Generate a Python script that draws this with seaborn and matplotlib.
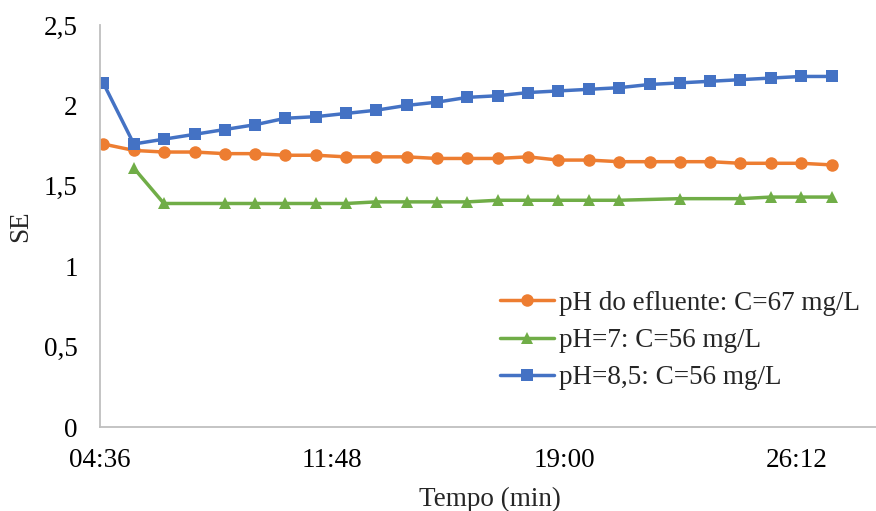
import matplotlib
matplotlib.use("Agg")
import matplotlib.pyplot as plt
import numpy as np
import pandas as pd
import seaborn as sns
from matplotlib.ticker import FixedLocator, FixedFormatter

# Sampling instants (mm:ss)
tempos = ["04:42", "05:39", "06:35", "07:32", "08:28", "09:25", "10:21", "11:18",
          "12:14", "13:10", "14:07", "15:03", "16:00", "16:56", "17:53", "18:49",
          "19:46", "20:42", "21:39", "22:35", "23:32", "24:28", "25:25", "26:21",
          "27:18"]

se_efluente = [1.76, 1.72, 1.71, 1.71, 1.70, 1.70, 1.69, 1.69, 1.68, 1.68, 1.68,
               1.67, 1.67, 1.67, 1.68, 1.66, 1.66, 1.65, 1.65, 1.65, 1.65, 1.64,
               1.64, 1.64, 1.63]
se_ph7 = [np.nan, 1.61, 1.39, np.nan, 1.39, 1.39, 1.39, 1.39, 1.39, 1.40, 1.40,
          1.40, 1.40, 1.41, 1.41, 1.41, 1.41, 1.41, np.nan, 1.42, np.nan, 1.42,
          1.43, 1.43, 1.43]
se_ph85 = [2.14, 1.76, 1.79, 1.82, 1.85, 1.88, 1.92, 1.93, 1.95, 1.97, 2.00,
           2.02, 2.05, 2.06, 2.08, 2.09, 2.10, 2.11, 2.13, 2.14, 2.15, 2.16,
           2.17, 2.18, 2.18]

series_names = ["pH do efluente: C=67 mg/L", "pH=7: C=56 mg/L", "pH=8,5: C=56 mg/L"]
series_colors = ["#ED7D31", "#70AD47", "#4472C4"]
series_markers = ["o", "^", "s"]

x_tick_labels = ["04:36", "11:48", "19:00", "26:12"]
y_ticks = [0, 0.5, 1, 1.5, 2, 2.5]
y_tick_labels = ["0", "0,5", "1", "1,5", "2", "2,5"]

FS = 19.5


def to_seconds(s):
    m, sec = s.split(":")
    return int(m) * 60 + int(sec)


secs = [to_seconds(t) for t in tempos]
frames = []
for name, vals in zip(series_names, [se_efluente, se_ph7, se_ph85]):
    frames.append(pd.DataFrame({"t": secs, "SE": vals, "serie": name}))
df = pd.concat(frames, ignore_index=True).dropna()

sns.set_theme(style="white")
plt.rcParams["font.family"] = ["Liberation Serif", "DejaVu Serif"]

fig = plt.figure(figsize=(8.76, 5.11), dpi=100)
ax = fig.add_axes([100 / 876, 1 - 427 / 511, 780 / 876, (427 - 25) / 511])

sns.lineplot(
    data=df, x="t", y="SE", hue="serie", style="serie",
    hue_order=series_names, style_order=series_names,
    palette=dict(zip(series_names, series_colors)),
    markers=dict(zip(series_names, series_markers)),
    dashes=False, linewidth=2.5, markersize=9, markeredgewidth=0,
    ax=ax, sort=False,
)

tick_secs = [to_seconds(t) for t in x_tick_labels]
ax.set_xlim(tick_secs[0], 1728)
ax.set_ylim(0, 2.5)
ax.xaxis.set_major_locator(FixedLocator(tick_secs))
ax.xaxis.set_major_formatter(FixedFormatter(x_tick_labels))
ax.yaxis.set_major_locator(FixedLocator(y_ticks))
ax.yaxis.set_major_formatter(FixedFormatter(y_tick_labels))

ax.tick_params(axis="both", length=0, labelsize=FS, colors="#000000")
ax.tick_params(axis="y", pad=16)
ax.tick_params(axis="x", pad=15)
ax.grid(False)

for side in ["top", "right"]:
    ax.spines[side].set_visible(False)
for side in ["left", "bottom"]:
    ax.spines[side].set_color("#BFBFBF")
    ax.spines[side].set_linewidth(1.3)

ax.set_xlabel("Tempo (min)", fontsize=FS, labelpad=10)
ax.set_ylabel("SE", fontsize=FS, labelpad=8)

sns.move_legend(
    ax, "center", bbox_to_anchor=(680 / 876, 1 - 340.6 / 511),
    bbox_transform=fig.transFigure, frameon=False, title=None,
    fontsize=FS, handlelength=2.0, handletextpad=0.2, labelspacing=0.45,
    borderpad=0, borderaxespad=0,
)
for h in ax.get_legend().legend_handles:
    h.set_linewidth(2.5)
    h.set_markersize(9)
    h.set_markeredgewidth(0)

fig.savefig("out.png", dpi=100)
